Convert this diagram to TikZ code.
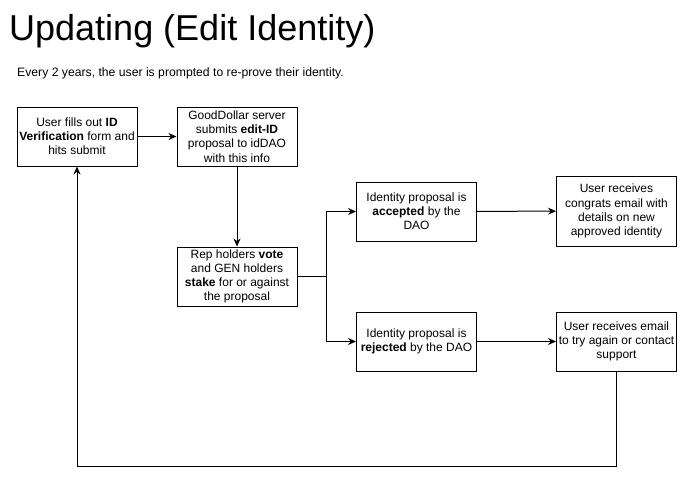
\documentclass[tikz,border=0pt]{standalone}
\usepackage{fontspec}
\setmainfont{Liberation Sans}
\usetikzlibrary{arrows.meta,calc}
\begin{document}
\begin{tikzpicture}[x=1pt,y=-1pt,
  boxfont/.style={font=\fontsize{12}{14.2}\selectfont},
  box/.style={draw,line width=1pt,minimum width=120pt,minimum height=59pt,inner sep=0pt,
    align=center,boxfont},
  conn/.style={line width=1pt,-{Stealth[length=8pt,width=7pt]}}]
\useasboundingbox (0,0) rectangle (689,479);
\node[anchor=base west,font=\fontsize{36}{40}\selectfont,inner sep=0pt] (title) at (9,40) {Updating (Edit Identity)};
\node[anchor=base west,font=\fontsize{12.2}{14}\selectfont,inner sep=0pt] (sub) at (17,76) {Every 2 years, the user is prompted to re-prove their identity.};
\node[box] (b1) at (77,136.5) {User fills out \textbf{ID}\\\textbf{Verification} form and\\hits submit};
\node[box] (b2) at (237,136.5) {GoodDollar server\\submits \textbf{edit-ID}\\proposal to idDAO\\with this info};
\node[box] (b3) at (237,276.5) {Rep holders \textbf{vote}\\and GEN holders\\\textbf{stake} for or against\\the proposal};
\node[box] (b4) at (416.5,211.5) {Identity proposal is\\\textbf{accepted} by the\\DAO};
\node[box,minimum height=70pt] (b5) at (616.5,211) {User receives\\congrats email with\\details on new\\approved identity};
\node[box] (b6) at (416.5,341.5) {Identity proposal is\\\textbf{rejected} by the DAO};
\node[box,label={[align=center,boxfont,inner sep=0pt]center:User receives email\\to try again or contact\\support}] (b7) at (616.5,341.5) {};
\coordinate (split) at (326,276.5);
\coordinate (bl) at (77,466);
\coordinate (br) at (616.5,466);
\draw[conn] (b1) -- (b2);
\draw[conn] (b2) -- (b3);
\draw[conn] (b3.east) -- (split) |- (b4.west);
\draw[conn] (split) |- (b6.west);
\draw[conn] (b4) -- (b5);
\draw[conn] (b6) -- (b7);
\draw[conn] (b7.south) -- (br) -- (bl) -- (b1.south);
\end{tikzpicture}
\end{document}
